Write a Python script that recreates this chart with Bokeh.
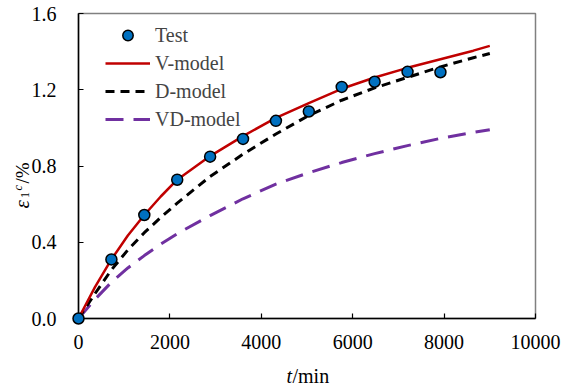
from bokeh.plotting import figure
from bokeh.models import (Range1d, FixedTicker, NumeralTickFormatter,
                          Legend, LegendItem, ColumnDataSource)
from bokeh.core.properties import value
from bokeh.embed import file_html
from bokeh.resources import INLINE

# ---- data ----
t_test = [0, 720, 1440, 2160, 2880, 3600, 4320, 5040, 5760, 6480, 7200, 7920]
e_test = [0, 0.31, 0.543, 0.728, 0.849, 0.942, 1.037, 1.086, 1.215, 1.242, 1.294, 1.292]

t_model = [0, 360, 720, 1080, 1440, 1800, 2160, 2880, 3600, 4320, 5040, 5760, 6480, 7200, 7920, 8640, 9000]
e_v = [0, 0.165, 0.31, 0.435, 0.543, 0.64, 0.728, 0.852, 0.957, 1.052, 1.13, 1.205, 1.264, 1.315, 1.36, 1.405, 1.43]
e_d = [0, 0.13, 0.255, 0.36, 0.45, 0.53, 0.605, 0.745, 0.862, 0.968, 1.065, 1.145, 1.21, 1.265, 1.32, 1.368, 1.39]
e_vd = [0, 0.10, 0.19, 0.265, 0.33, 0.39, 0.445, 0.54, 0.628, 0.705, 0.765, 0.818, 0.865, 0.907, 0.945, 0.976, 0.99]

x_ticks = [0, 2000, 4000, 6000, 8000, 10000]
y_ticks = [0.0, 0.4, 0.8, 1.2, 1.6]

FONT = "Liberation Serif"
RED = "#C00000"
BLUE = "#0070C0"
PURPLE = "#7030A0"

p = figure(width=563, height=388, output_backend="svg", toolbar_location=None,
           x_range=Range1d(0, 10000), y_range=Range1d(0, 1.6),
           min_border_left=78, min_border_right=28, min_border_top=13, min_border_bottom=70)
p.outline_line_color = "#808080"
p.outline_line_width = 1.5
p.xgrid.visible = False
p.ygrid.visible = False
p.background_fill_color = "white"

for ax in (p.xaxis[0], p.yaxis[0]):
    ax.major_label_text_font = FONT
    ax.major_label_text_font_size = "20px"
    ax.major_label_text_color = "black"
    ax.axis_line_color = "black"
    ax.axis_line_width = 1.5
    ax.major_tick_line_color = "black"
    ax.major_tick_line_width = 1.2
    ax.major_tick_in = 5
    ax.major_tick_out = 0
    ax.minor_tick_line_color = None

p.xaxis.ticker = FixedTicker(ticks=x_ticks)
p.xaxis.formatter = NumeralTickFormatter(format="0")
p.xaxis.major_label_standoff = 16
p.yaxis.ticker = FixedTicker(ticks=y_ticks)
p.yaxis.formatter = NumeralTickFormatter(format="0.0")
p.yaxis.major_label_standoff = 22

src_m = ColumnDataSource(dict(t=t_model, v=e_v, d=e_d, vd=e_vd))
src_t = ColumnDataSource(dict(t=t_test, e=e_test))

r_vd = p.line("t", "vd", source=src_m, line_color=PURPLE, line_width=3, line_dash="18 10")
r_d = p.line("t", "d", source=src_m, line_color="black", line_width=3, line_dash="9 6")
r_v = p.line("t", "v", source=src_m, line_color=RED, line_width=2.5)
r_t = p.scatter("t", "e", source=src_t, size=11, fill_color=BLUE, line_color="black",
                line_width=1.5, level="overlay")

legend = Legend(items=[LegendItem(label="Test", renderers=[r_t]),
                       LegendItem(label="V-model", renderers=[r_v]),
                       LegendItem(label="D-model", renderers=[r_d]),
                       LegendItem(label="VD-model", renderers=[r_vd])],
                location=(27, 186), padding=0, margin=0, spacing=2,
                glyph_width=45, glyph_height=26, label_height=26, label_standoff=5,
                label_text_font=FONT, label_text_font_size="20px",
                border_line_color=None, background_fill_alpha=0)
p.add_layout(legend, "center")

# px -> data helpers for placing the axis titles outside the frame
XPX = 10000 / 457.0
YPX = 1.6 / 305.0

def lab(dx, dy, text, size, style="normal", angle=0):
    p.text(x=[dx * XPX], y=[dy * YPX], text=[text], text_font=value(FONT),
           text_font_size=value(size), text_font_style=style, text_color="black",
           text_align="left", text_baseline="alphabetic",
           angle=angle, angle_units="deg", level="overlay")

# x-axis title: t/min  (offsets in px from the frame's bottom-left corner)
lab(208, -57, "t", "20px", "italic")
lab(214, -57, "/min", "20px")

# y-axis title: ε1c/% (rotated)
lab(-56.5, 110, "ε", "21px", "italic", 90)
lab(-54.0, 120.5, "1", "12px", "normal", 90)
lab(-61.0, 128, "c", "12px", "italic", 90)
lab(-56.5, 135, "/%", "19px", "normal", 90)

open("out.html", "w").write(file_html(p, INLINE))
